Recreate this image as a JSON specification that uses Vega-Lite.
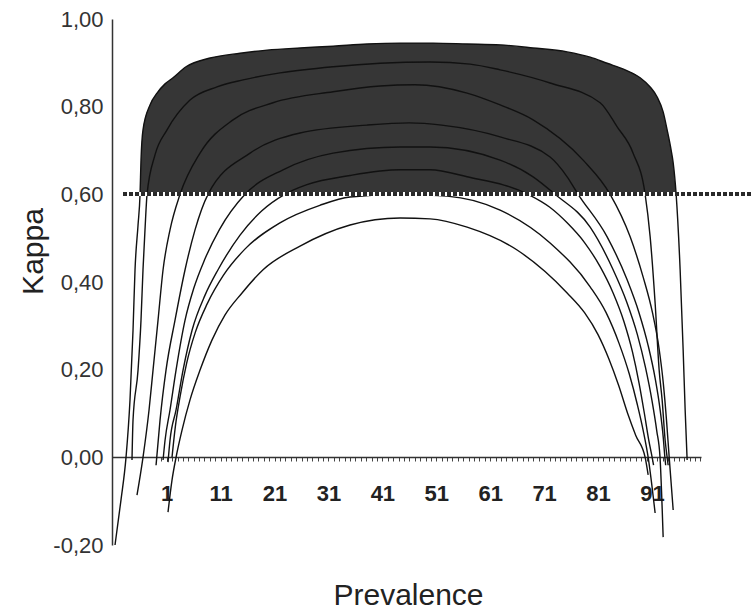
{
  "$schema": "https://vega.github.io/schema/vega-lite/v6.json",
  "width": 589,
  "height": 526,
  "autosize": {"type": "none"},
  "padding": {"left": 112, "top": 19, "right": 51, "bottom": 65},
  "background": "white",
  "config": {"view": {"stroke": null}, "font": "Liberation Sans"},
  "data": {"values": [
    {"c":"A","p":-8.59,"k":-0.2},{"c":"A","p":-7.48,"k":-0.097},{"c":"A","p":-6.55,"k":0.0},{"c":"A","p":-5.81,"k":0.131},{"c":"A","p":-5.25,"k":0.29},{"c":"A","p":-4.88,"k":0.428},{"c":"A","p":-4.32,"k":0.53},{"c":"A","p":-3.95,"k":0.6},{"c":"A","p":-3.77,"k":0.678},{"c":"A","p":-3.4,"k":0.747},{"c":"A","p":-2.1,"k":0.804},{"c":"A","p":-0.8,"k":0.831},{"c":"A","p":0.69,"k":0.852},{"c":"A","p":2.17,"k":0.866},{"c":"A","p":4.58,"k":0.891},{"c":"A","p":9.04,"k":0.911},{"c":"A","p":14.6,"k":0.922},{"c":"A","p":19.61,"k":0.929},{"c":"A","p":25.73,"k":0.934},{"c":"A","p":31.86,"k":0.938},{"c":"A","p":38.16,"k":0.943},{"c":"A","p":44.29,"k":0.945},{"c":"A","p":50.41,"k":0.945},{"c":"A","p":56.72,"k":0.943},{"c":"A","p":62.84,"k":0.941},{"c":"A","p":68.96,"k":0.934},{"c":"A","p":75.27,"k":0.925},{"c":"A","p":79.54,"k":0.913},{"c":"A","p":82.69,"k":0.899},{"c":"A","p":86.03,"k":0.884},{"c":"A","p":88.81,"k":0.866},{"c":"A","p":90.67,"k":0.845},{"c":"A","p":91.97,"k":0.822},{"c":"A","p":93.08,"k":0.788},{"c":"A","p":93.82,"k":0.747},{"c":"A","p":94.56,"k":0.701},{"c":"A","p":94.94,"k":0.672},{"c":"A","p":95.49,"k":0.6},{"c":"A","p":96.23,"k":0.428},{"c":"A","p":96.79,"k":0.245},{"c":"A","p":97.16,"k":0.108},{"c":"A","p":97.53,"k":-0.006},
    {"c":"B","p":-5.44,"k":-0.006},{"c":"B","p":-5.25,"k":0.085},{"c":"B","p":-4.32,"k":0.199},{"c":"B","p":-3.77,"k":0.313},{"c":"B","p":-3.4,"k":0.428},{"c":"B","p":-3.03,"k":0.519},{"c":"B","p":-2.65,"k":0.6},{"c":"B","p":-1.17,"k":0.69},{"c":"B","p":1.06,"k":0.747},{"c":"B","p":5.32,"k":0.815},{"c":"B","p":10.33,"k":0.845},{"c":"B","p":15.16,"k":0.861},{"c":"B","p":22.02,"k":0.877},{"c":"B","p":31.86,"k":0.891},{"c":"B","p":40.57,"k":0.899},{"c":"B","p":49.85,"k":0.902},{"c":"B","p":57.27,"k":0.897},{"c":"B","p":62.84,"k":0.884},{"c":"B","p":72.11,"k":0.854},{"c":"B","p":81.39,"k":0.809},{"c":"B","p":84.55,"k":0.754},{"c":"B","p":87.51,"k":0.694},{"c":"B","p":89.74,"k":0.6},{"c":"B","p":90.67,"k":0.503},{"c":"B","p":91.59,"k":0.352},{"c":"B","p":92.34,"k":0.199},{"c":"B","p":92.89,"k":0.131},{"c":"B","p":93.45,"k":0.039},{"c":"B","p":93.82,"k":0.0},{"c":"B","p":94.01,"k":-0.018},
    {"c":"C","p":-4.51,"k":-0.086},{"c":"C","p":-3.4,"k":0.0},{"c":"C","p":-2.28,"k":0.108},{"c":"C","p":-1.54,"k":0.199},{"c":"C","p":-0.61,"k":0.313},{"c":"C","p":0.32,"k":0.428},{"c":"C","p":1.61,"k":0.519},{"c":"C","p":3.47,"k":0.6},{"c":"C","p":7.18,"k":0.694},{"c":"C","p":13.3,"k":0.77},{"c":"C","p":20.72,"k":0.809},{"c":"C","p":31.86,"k":0.834},{"c":"C","p":40.57,"k":0.847},{"c":"C","p":47.0,"k":0.85},{"c":"C","p":56.72,"k":0.831},{"c":"C","p":62.84,"k":0.804},{"c":"C","p":68.96,"k":0.77},{"c":"C","p":78.24,"k":0.678},{"c":"C","p":83.25,"k":0.6},{"c":"C","p":86.96,"k":0.503},{"c":"C","p":89.4,"k":0.41},{"c":"C","p":91.1,"k":0.33},{"c":"C","p":92.3,"k":0.25},{"c":"C","p":93.1,"k":0.17},{"c":"C","p":93.7,"k":0.085},{"c":"C","p":94.2,"k":0.0},{"c":"C","p":94.94,"k":-0.12},
    {"c":"D","p":-0.98,"k":-0.018},{"c":"D","p":-0.24,"k":0.085},{"c":"D","p":0.87,"k":0.199},{"c":"D","p":2.54,"k":0.313},{"c":"D","p":4.4,"k":0.428},{"c":"D","p":6.25,"k":0.519},{"c":"D","p":8.66,"k":0.6},{"c":"D","p":16.46,"k":0.694},{"c":"D","p":25.73,"k":0.74},{"c":"D","p":38.16,"k":0.758},{"c":"D","p":46.0,"k":0.763},{"c":"D","p":52.0,"k":0.758},{"c":"D","p":62.84,"k":0.731},{"c":"D","p":72.11,"k":0.685},{"c":"D","p":75.27,"k":0.64},{"c":"D","p":77.31,"k":0.6},{"c":"D","p":82.69,"k":0.503},{"c":"D","p":86.4,"k":0.405},{"c":"D","p":88.6,"k":0.33},{"c":"D","p":90.3,"k":0.255},{"c":"D","p":91.6,"k":0.18},{"c":"D","p":92.5,"k":0.11},{"c":"D","p":93.1,"k":0.045},{"c":"D","p":93.4,"k":0.0},{"c":"D","p":93.55,"k":-0.018},
    {"c":"E","p":0.32,"k":-0.006},{"c":"E","p":0.69,"k":0.039},{"c":"E","p":1.61,"k":0.108},{"c":"E","p":2.73,"k":0.199},{"c":"E","p":4.4,"k":0.313},{"c":"E","p":6.0,"k":0.385},{"c":"E","p":8.0,"k":0.45},{"c":"E","p":10.8,"k":0.52},{"c":"E","p":15.53,"k":0.6},{"c":"E","p":22.57,"k":0.656},{"c":"E","p":31.86,"k":0.694},{"c":"E","p":44.29,"k":0.708},{"c":"E","p":49.85,"k":0.708},{"c":"E","p":62.84,"k":0.678},{"c":"E","p":68.96,"k":0.64},{"c":"E","p":73.04,"k":0.6},{"c":"E","p":79.54,"k":0.525},{"c":"E","p":83.8,"k":0.428},{"c":"E","p":86.3,"k":0.355},{"c":"E","p":88.3,"k":0.28},{"c":"E","p":89.8,"k":0.205},{"c":"E","p":91.0,"k":0.13},{"c":"E","p":91.9,"k":0.06},{"c":"E","p":92.5,"k":0.0},{"c":"E","p":93.08,"k":-0.182},
    {"c":"F","p":1.24,"k":-0.011},{"c":"F","p":1.61,"k":0.039},{"c":"F","p":2.73,"k":0.108},{"c":"F","p":4.03,"k":0.199},{"c":"F","p":5.7,"k":0.29},{"c":"F","p":8.11,"k":0.37},{"c":"F","p":10.52,"k":0.428},{"c":"F","p":14.6,"k":0.507},{"c":"F","p":18.6,"k":0.562},{"c":"F","p":22.9,"k":0.6},{"c":"F","p":27.0,"k":0.622},{"c":"F","p":35.01,"k":0.643},{"c":"F","p":44.29,"k":0.656},{"c":"F","p":49.85,"k":0.656},{"c":"F","p":56.72,"k":0.64},{"c":"F","p":68.03,"k":0.6},{"c":"F","p":72.0,"k":0.571},{"c":"F","p":75.27,"k":0.535},{"c":"F","p":78.5,"k":0.49},{"c":"F","p":81.39,"k":0.435},{"c":"F","p":83.8,"k":0.375},{"c":"F","p":85.8,"k":0.31},{"c":"F","p":87.4,"k":0.24},{"c":"F","p":88.6,"k":0.17},{"c":"F","p":89.6,"k":0.1},{"c":"F","p":90.4,"k":0.04},{"c":"F","p":91.04,"k":0.0},{"c":"F","p":91.3,"k":-0.018},
    {"c":"G","p":1.98,"k":0.0},{"c":"G","p":2.6,"k":0.07},{"c":"G","p":3.5,"k":0.14},{"c":"G","p":4.7,"k":0.215},{"c":"G","p":6.3,"k":0.285},{"c":"G","p":8.5,"k":0.35},{"c":"G","p":11.5,"k":0.415},{"c":"G","p":15.5,"k":0.475},{"c":"G","p":22.0,"k":0.535},{"c":"G","p":29.4,"k":0.575},{"c":"G","p":35.0,"k":0.594},{"c":"G","p":44.29,"k":0.6},{"c":"G","p":53.01,"k":0.596},{"c":"G","p":62.84,"k":0.564},{"c":"G","p":72.11,"k":0.489},{"c":"G","p":79.54,"k":0.389},{"c":"G","p":82.5,"k":0.33},{"c":"G","p":84.9,"k":0.26},{"c":"G","p":86.8,"k":0.19},{"c":"G","p":88.3,"k":0.12},{"c":"G","p":89.4,"k":0.06},{"c":"G","p":90.3,"k":0.0},{"c":"G","p":91.59,"k":-0.127},
    {"c":"H","p":1.24,"k":-0.125},{"c":"H","p":1.98,"k":-0.052},{"c":"H","p":2.73,"k":0.0},{"c":"H","p":3.84,"k":0.062},{"c":"H","p":5.32,"k":0.131},{"c":"H","p":7.18,"k":0.199},{"c":"H","p":9.41,"k":0.268},{"c":"H","p":11.82,"k":0.325},{"c":"H","p":14.97,"k":0.375},{"c":"H","p":18.87,"k":0.428},{"c":"H","p":25.73,"k":0.482},{"c":"H","p":35.01,"k":0.53},{"c":"H","p":44.29,"k":0.546},{"c":"H","p":49.85,"k":0.544},{"c":"H","p":56.72,"k":0.525},{"c":"H","p":65.99,"k":0.473},{"c":"H","p":75.27,"k":0.375},{"c":"H","p":78.5,"k":0.33},{"c":"H","p":81.0,"k":0.28},{"c":"H","p":83.0,"k":0.225},{"c":"H","p":84.8,"k":0.165},{"c":"H","p":86.5,"k":0.1},{"c":"H","p":88.0,"k":0.05},{"c":"H","p":89.74,"k":0.0},{"c":"H","p":90.3,"k":-0.04}
  ]},
  "layer": [
    {
      "transform": [{"filter": "datum.c == 'A' && datum.k >= 0.6"}],
      "mark": {"type": "area", "interpolate": "monotone", "color": "#363636"},
      "encoding": {
        "x": {"field": "p", "type": "quantitative",
          "scale": {"domain": [-9.15, 100.1], "nice": false, "zero": false},
          "axis": {
            "title": "Prevalence", "titleFontSize": 30, "titleFontWeight": "normal", "titleColor": "#222",
            "titleX": 296, "titleY": 147, "titleBaseline": "alphabetic", "titleAlign": "center", "titleAnchor": null,
            "offset": -88, "grid": false, "tickCount": 300,
            "values": [0,1,2,3,4,5,6,7,8,9,10,11,12,13,14,15,16,17,18,19,20,21,22,23,24,25,26,27,28,29,30,31,32,33,34,35,36,37,38,39,40,41,42,43,44,45,46,47,48,49,50,51,52,53,54,55,56,57,58,59,60,61,62,63,64,65,66,67,68,69,70,71,72,73,74,75,76,77,78,79,80,81,82,83,84,85,86,87,88,89,90,91,92,93,94,95,96,97,98,99,100],
            "labelExpr": "datum.value % 10 == 1 ? datum.value : ''",
            "labelOverlap": false, "labelFlush": false, "labelBound": false,
            "labelFontSize": 22, "labelFontWeight": "bold", "labelColor": "#222", "labelPadding": 22,
            "tickSize": 4, "tickColor": "#444", "tickWidth": 1,
            "domainColor": "#333", "domainWidth": 1.5
          }
        },
        "y": {"field": "k", "type": "quantitative",
          "scale": {"domain": [-0.2, 1.0], "nice": false, "zero": false},
          "axis": {
            "title": "Kappa", "titleFontSize": 30, "titleFontWeight": "normal", "titleColor": "#222",
            "titleX": -70, "titleY": 232, "titleAngle": -90, "titleBaseline": "alphabetic", "titleAlign": "center", "titleAnchor": null,
            "grid": false, "ticks": false, "tickSize": 0,
            "values": [-0.2, 0, 0.2, 0.4, 0.6, 0.8, 1.0],
            "labelExpr": "replace(replace(format(datum.value, '.2f'), '.', ','), '\u2212', '-')",
            "labelFontSize": 22, "labelColor": "#333", "labelPadding": 9,
            "domainColor": "#333", "domainWidth": 1.5
          }
        },
        "y2": {"datum": 0.6}
      }
    },
    {
      "mark": {"type": "line", "interpolate": "monotone", "color": "#111111", "strokeWidth": 1.4},
      "encoding": {
        "x": {"field": "p", "type": "quantitative"},
        "y": {"field": "k", "type": "quantitative"},
        "detail": {"field": "c"}
      }
    },
    {
      "mark": {"type": "rule", "color": "white", "strokeWidth": 3},
      "encoding": {"x": {"datum": -7.1}, "x2": {"datum": 109.6}, "y": {"datum": 0.6}}
    },
    {
      "mark": {"type": "rule", "color": "#2a2a2a", "strokeWidth": 3.5, "strokeDash": [3.5, 2.5]},
      "encoding": {"x": {"datum": -7.1}, "x2": {"datum": 109.6}, "y": {"datum": 0.6}}
    }
  ]
}
